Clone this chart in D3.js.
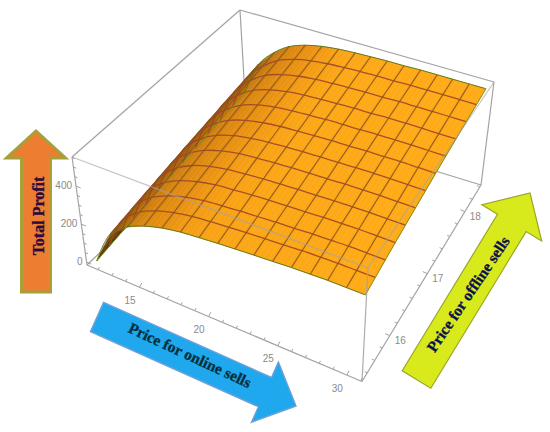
<!DOCTYPE html>
<html><head><meta charset="utf-8">
<style>html,body{margin:0;padding:0;background:#fff}svg{display:block}</style>
<script src="https://cdnjs.cloudflare.com/ajax/libs/d3/7.8.5/d3.min.js"></script>
</head><body><svg id="c" width="550" height="432"></svg>
<script>
// Price for online sells (mesh lines)
const onlinePrice = [11.6,12.9,14.2,15.4,16.7,18.0,19.3,20.6,21.8,23.1,24.4,25.7,27.0,28.2,29.5,30.8];
// Price for offline sells (mesh lines)
const offlinePrice = [15.35,15.6,15.85,16.1,16.35,16.6,16.85,17.1,17.35,17.6,17.85,18.1,18.33];
// Total profit, one row per offline price
const profit = [
[-4,178,252,292,320,337,346,354,360,366,371,377,380,383,383,383],
[7,189,265,306,335,352,361,369,375,380,385,391,394,396,396,396],
[18,201,278,320,349,367,376,384,389,395,399,404,407,410,410,410],
[29,212,290,335,364,382,391,399,404,409,413,418,421,423,423,423],
[40,223,303,349,379,397,406,414,419,424,427,432,434,436,436,436],
[51,235,316,363,394,412,422,429,434,438,441,446,448,449,449,449],
[62,246,329,377,408,426,437,443,448,452,455,459,461,462,462,462],
[72,257,341,391,423,441,452,458,463,467,469,473,474,476,476,476],
[83,268,354,406,438,456,467,473,478,481,483,487,488,489,489,489],
[94,280,367,420,452,471,482,488,492,496,497,501,502,502,502,502],
[105,291,380,434,467,486,497,503,507,510,511,514,515,516,516,516],
[116,303,392,448,481,501,512,518,522,525,525,528,529,529,529,529],
[127,314,405,462,496,516,527,533,536,539,539,542,542,542,542,542]];
const xTickLabels = [15,20,25,30];
const yTickLabels = [16,17,18];
const zTickLabels = [0,200,400];

const svg = d3.select('#c');
const sx = d3.scaleLinear().domain([11.2,31.1]).range([0,1]);
const sy = d3.scaleLinear().domain([15.26,18.43]).range([0,1]);
const sz = d3.scaleLinear().domain([-15,553]).range([0,1]);

// projected box corners
const box = {A:[87,265],B:[362,381.5],H:[246,113],F:[481,185],C:[72,157],G:[368,268],D:[240,10],E:[494,82]};
const mix=(a,b,t)=>[a[0]+(b[0]-a[0])*t,a[1]+(b[1]-a[1])*t];
function proj(x,y,z){
  const u=sx(x),v=sy(y),w=sz(z);
  const bot=mix(mix(box.A,box.B,u),mix(box.H,box.F,u),v);
  const top=mix(mix(box.C,box.G,u),mix(box.D,box.E,u),v);
  return mix(bot,top,w);
}
const gray='#a3a3a3';
const seg=(g,a,b,w,op)=>g.append('line').attr('x1',a[0]).attr('y1',a[1]).attr('x2',b[0]).attr('y2',b[1])
  .attr('stroke',gray).attr('stroke-width',w||1.2).attr('stroke-opacity',op==null?1:op);

// back of the box
const back=svg.append('g');
[['H','D'],['D','C'],['D','E'],['E','F'],['H','F'],['A','H'],['A','C'],['A','B'],['B','F']].forEach(p=>seg(back,box[p[0]],box[p[1]]));

// axes ticks
const tk=svg.append('g');
const xMin=sx.domain()[0], yMin=sy.domain()[0], zMin=sz.domain()[0];
d3.range(12,32).forEach(t=>{
  const major=t%5===0, p=proj(t,yMin,zMin), l=major?5:3;
  seg(tk,p,[p[0]+l*.45,p[1]-l*.85],1);
});
d3.range(15.4,18.41,0.2).forEach(t=>{
  const major=Math.abs(t-Math.round(t))<.01, p=proj(31.1,t,zMin), l=major?5:3;
  seg(tk,p,[p[0]-l*.9,p[1]-l*.4],1);
});
d3.range(0,551,50).forEach(t=>{
  const major=t%200===0, p=proj(xMin,yMin,t), l=major?5:3;
  seg(tk,p,[p[0]+l*.92,p[1]+l*.38],1);
});
const label=(p,t,anchor)=>svg.append('text').attr('x',p[0]).attr('y',p[1]).attr('text-anchor',anchor||'middle')
  .attr('dominant-baseline','central').attr('font-family','"Liberation Sans",sans-serif').attr('font-size',10).attr('fill','#8a8a8a').text(t);
xTickLabels.forEach(t=>{const p=proj(t,yMin,zMin);label([p[0]-9.5,p[1]+13],t);});
yTickLabels.forEach(t=>{const p=proj(31.1,t,zMin);label([p[0]+10.5,p[1]+5],t);});
zTickLabels.forEach(t=>{const p=proj(xMin,yMin,t);label([p[0]-4,p[1]-1],t,'end');});

// surface
const slopeColor=d3.scaleLinear().domain([0,4,9,16,32,60,100,150])
  .range(['#ffab17','#fca716','#f49d14','#e99212','#d8860f','#b9700c','#8f5509','#3a2a08']).clamp(true);
const nx=onlinePrice.length, ny=offlinePrice.length;
function slope(j,i){
  const a=Math.max(i-1,0),b=Math.min(i+1,nx-1);
  return (profit[j][b]-profit[j][a])/(onlinePrice[b]-onlinePrice[a]);
}
const surf=svg.append('g');
const SUB=4;
for(let j=ny-2;j>=0;j--){
  for(let i=0;i<nx-1;i++){
    for(let s=0;s<SUB;s++){
      const t0=s/SUB,t1=(s+1)/SUB,tm=(s+.5)/SUB;
      const xa=onlinePrice[i]+(onlinePrice[i+1]-onlinePrice[i])*t0;
      const xb=onlinePrice[i]+(onlinePrice[i+1]-onlinePrice[i])*t1;
      const zAt=(r,t)=>profit[r][i]+(profit[r][i+1]-profit[r][i])*t;
      const poly=[proj(xa,offlinePrice[j],zAt(j,t0)),proj(xb,offlinePrice[j],zAt(j,t1)),
                  proj(xb,offlinePrice[j+1],zAt(j+1,t1)),proj(xa,offlinePrice[j+1],zAt(j+1,t0))];
      const m=(slope(j,i)+slope(j+1,i))/2, n=(slope(j,i+1)+slope(j+1,i+1))/2;
      const c=slopeColor(m+(n-m)*tm);
      surf.append('polygon').attr('points',poly.join(' ')).attr('fill',c).attr('stroke',c).attr('stroke-width',.5);
    }
  }
}
const line=d3.line().curve(d3.curveCatmullRom.alpha(.5));
// mesh
profit.forEach((row,j)=>{
  const edge=j===0||j===ny-1;
  surf.append('path').attr('d',line(row.map((z,i)=>proj(onlinePrice[i],offlinePrice[j],z)))).attr('fill','none')
   .attr('stroke',edge?'#5f7a14':'#9c4628').attr('stroke-width',edge?1:1.3).attr('stroke-opacity',edge?1:.9);
});
onlinePrice.forEach((x,i)=>{
  const edge=i===0||i===nx-1;
  surf.append('path').attr('d',line(profit.map((r,j)=>proj(x,offlinePrice[j],r[i])))).attr('fill','none')
   .attr('stroke',edge?'#7b8f18':'#8f5520').attr('stroke-width',edge?1:1.2).attr('stroke-opacity',edge?1:.9);
});

// front of the box, seen through the surface
const front=svg.append('g');
seg(front,box.C,box.G,1.2,.65); seg(front,box.G,box.E,1.2,.65); seg(front,box.G,box.B,1.2,.9);

// annotation arrows
function arrow(base,tip,shaftW,headW,headL,fill,stroke,sw){
  const d=Math.hypot(tip[0]-base[0],tip[1]-base[1]),a=Math.atan2(tip[1]-base[1],tip[0]-base[0])*180/Math.PI,s=shaftW/2,h=headW/2,n=d-headL;
  svg.append('polygon').attr('points',[[0,-s],[n,-s],[n,-h],[d,0],[n,h],[n,s],[0,s]].join(' '))
    .attr('transform',`translate(${base}) rotate(${a})`).attr('fill',fill).attr('stroke',stroke).attr('stroke-width',sw);
}
arrow([36,292],[36,131],29,59,27,'#ed7d31','#a5a03a',3);
arrow([97,317],[296,406],32,66,34,'#1fa8ee','#6f9fd8',1.4);
arrow([416.5,379.5],[530,193],33.5,70,35,'#d9ea1c','#9aa628',1.2);
const cap=(p,a,t,c,fs)=>svg.append('text').attr('transform',`translate(${p}) rotate(${a})`).attr('text-anchor','middle')
  .attr('dominant-baseline','central').attr('font-family','"Liberation Serif",serif').attr('font-weight','bold').attr('font-size',fs)
  .attr('fill',c).attr('stroke',c).attr('stroke-width',.3).text(t);
cap([38,216],-90,'Total Profit','#2b0a3d',16);
cap([190,355],25,'Price for online sells','#06303d',15.5);
cap([468,294],-56,'Price for offline sells','#0a1050',15.5);
</script></body></html>
